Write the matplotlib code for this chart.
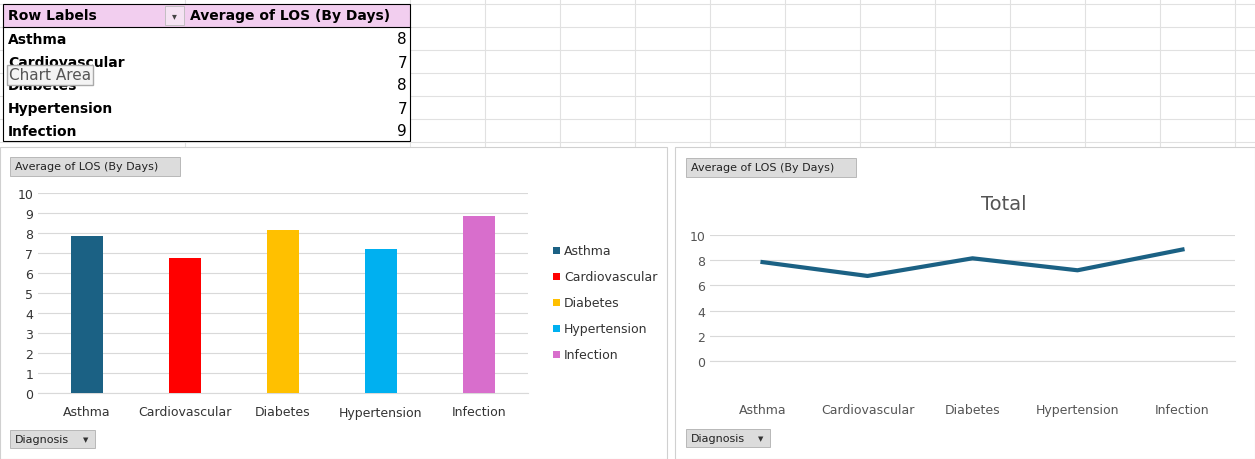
import matplotlib
matplotlib.use("Agg")
import matplotlib.pyplot as plt
from matplotlib.patches import Rectangle

categories = ["Asthma", "Cardiovascular", "Diabetes", "Hypertension", "Infection"]
avg_los = [7.85, 6.75, 8.15, 7.2, 8.85]
table_vals = [8, 7, 8, 7, 9]
colors = ["#1B6184", "#FF0000", "#FFC000", "#00B0F0", "#D86ECC"]

W, H = 1255, 460
fig = plt.figure(figsize=(W/100, H/100), dpi=100)
plt.rcParams['font.family'] = ['DejaVu Sans']

bg = fig.add_axes([0, 0, 1, 1])
bg.set_xlim(0, W); bg.set_ylim(H, 0); bg.axis('off')
for x in [185, 410, 485, 560, 635, 710, 785, 860, 935, 1010, 1085, 1160, 1235]:
    bg.plot([x, x], [0, H], color="#E1E1E1", lw=0.8, zorder=1)
for y in [5, 28, 51, 74, 97, 120, 143]:
    bg.plot([0, W], [y, y], color="#E1E1E1", lw=0.8, zorder=1)

# pivot table
bg.add_patch(Rectangle((3, 28), 407, 114, facecolor="white", edgecolor="none", zorder=3))
bg.add_patch(Rectangle((3, 5), 407, 23, facecolor="#F2CEEF", edgecolor="none", zorder=3))
bg.add_patch(Rectangle((3, 5), 407, 137, facecolor="none", edgecolor="black", lw=0.8, zorder=4))
bg.plot([3, 410], [28, 28], color="black", lw=0.8, zorder=4)
bg.text(8, 16, "Row Labels", fontsize=10, fontweight="bold", va="center", zorder=5)
bg.add_patch(Rectangle((165, 7), 19, 19, facecolor="#F5E3F3", edgecolor="#BBBBBB", lw=0.6, zorder=4))
bg.text(174, 16, "▾", fontsize=7, ha="center", va="center", color="#444", zorder=5)
bg.text(190, 16, "Average of LOS (By Days)", fontsize=10, fontweight="bold", va="center", zorder=5)
for i, (c, v) in enumerate(zip(categories, table_vals)):
    y = 40 + i*23
    bg.text(8, y, c, fontsize=10, fontweight="bold", va="center", zorder=5)
    bg.text(407, y, str(v), fontsize=11, ha="right", va="center", zorder=5)
bg.text(9, 76, "Chart Area", fontsize=11, color="#555", va="center", zorder=6,
        bbox=dict(facecolor="#F4F4F4", edgecolor="#AAAAAA", boxstyle="square,pad=0.15"))

# chart backgrounds
bg.add_patch(Rectangle((0, 148), 667, 312, facecolor="white", edgecolor="#D0D0D0", lw=0.8, zorder=3))
bg.add_patch(Rectangle((675, 148), 580, 312, facecolor="white", edgecolor="#D0D0D0", lw=0.8, zorder=3))

def button(x, y, w, h, label, arrow=False):
    bg.add_patch(Rectangle((x, y), w, h, facecolor="#DCDCDC", edgecolor="#B0B0B0", lw=0.6, zorder=4))
    bg.text(x+5, y+h/2, label, fontsize=8, va="center", color="#222", zorder=5)
    if arrow:
        bg.text(x+w-9, y+h/2, "▼", fontsize=5, ha="center", va="center", color="#333", zorder=5)

button(10, 158, 170, 19, "Average of LOS (By Days)")
button(10, 431, 85, 18, "Diagnosis", True)
button(686, 159, 170, 19, "Average of LOS (By Days)")
button(686, 430, 84, 18, "Diagnosis", True)

def pax(l, r, t, b):
    a = fig.add_axes([l/W, 1-b/H, (r-l)/W, (b-t)/H])
    a.patch.set_alpha(0)
    return a

# bar chart
ax = pax(38, 528, 194, 394)
ax.bar(range(5), avg_los, width=0.32, color=colors, zorder=3)
ax.set_xlim(-0.5, 4.5); ax.set_ylim(0, 10)
ax.set_yticks(range(11))
ax.set_xticks(range(5)); ax.set_xticklabels(categories)
ax.grid(axis='y', color="#D9D9D9", lw=0.8, zorder=0)
for s in ["top", "right", "left"]:
    ax.spines[s].set_visible(False)
ax.spines["bottom"].set_color("#D9D9D9")
ax.tick_params(length=0, labelsize=9, colors="#333")
ax.tick_params(axis='x', pad=9)
for i, (c, col) in enumerate(zip(categories, colors)):
    y = 252 + i*26
    bg.add_patch(Rectangle((553, y-4), 7, 7, facecolor=col, zorder=5))
    bg.text(564, y, c, fontsize=9, va="center", color="#333", zorder=5)

# line chart
ax2 = pax(710, 1235, 236, 362)
ax2.plot(range(5), avg_los, color="#1B6184", lw=3, zorder=3)
ax2.set_xlim(-0.5, 4.5); ax2.set_ylim(0, 10)
ax2.set_yticks(range(0, 11, 2))
ax2.set_xticks(range(5)); ax2.set_xticklabels(categories)
ax2.grid(axis='y', color="#D9D9D9", lw=0.8, zorder=0)
for s in ["top", "right", "left"]:
    ax2.spines[s].set_visible(False)
ax2.spines["bottom"].set_color("#D9D9D9")
ax2.tick_params(length=0, labelsize=9, colors="#555")
ax2.tick_params(axis='x', pad=30)
bg.text(1004, 205, "Total", fontsize=14, ha="center", va="center", color="#555", zorder=5)

fig.savefig("out.png", dpi=100)
